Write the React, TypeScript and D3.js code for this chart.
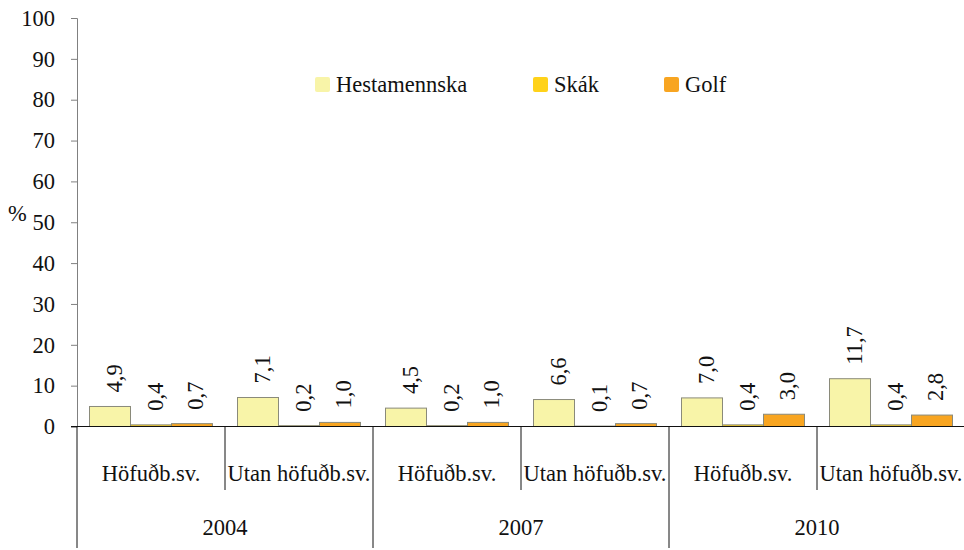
import React, { useEffect, useRef } from "react";
import * as d3 from "d3";

const years = ["2004", "2007", "2010"];
const regions = ["Höfuðb.sv.", "Utan höfuðb.sv."];
const series = ["Hestamennska", "Skák", "Golf"];
const colors = ["#F8F4A8", "#FFD21A", "#F8A521"];
// values per group: 2004 H, 2004 U, 2007 H, 2007 U, 2010 H, 2010 U
const hestamennska = [4.9, 7.1, 4.5, 6.6, 7.0, 11.7];
const skak = [0.4, 0.2, 0.2, 0.1, 0.4, 0.4];
const golf = [0.7, 1.0, 1.0, 0.7, 3.0, 2.8];
const yTicks = [0, 10, 20, 30, 40, 50, 60, 70, 80, 90, 100];

const W = 964;
const H = 550;
const FONT = "Liberation Serif, Tinos, Times New Roman, DejaVu Serif, serif";
const FS = "22.5px";

export default function App() {
  const ref = useRef<SVGSVGElement | null>(null);

  useEffect(() => {
    const svg = d3.select(ref.current);
    svg.selectAll("*").remove();

    const left = 77, right = 965, top = 18, base = 426.5;
    const y = d3.scaleLinear().domain([0, 100]).range([base, top]);

    const groups: string[] = [];
    years.forEach(yr => regions.forEach(r => groups.push(yr + "|" + r)));
    const x0 = d3.scaleBand().domain(groups).range([left, right]);
    const x1 = d3.scaleBand().domain(series).range([0, x0.bandwidth()]).paddingInner(0).paddingOuter(0.305);
    const xYear = d3.scaleBand().domain(years).range([left, right]);

    const vals = [hestamennska, skak, golf];
    const data = groups.map((g, gi) => ({ g, bars: series.map((s, si) => ({ s, si, v: vals[si][gi] })) }));

    // y axis
    const yAxis = d3.axisLeft(y).tickValues(yTicks).tickSize(6).tickPadding(16).tickFormat(d3.format("d"));
    const ya = svg.append("g").attr("transform", `translate(${left},0)`).call(yAxis);
    ya.attr("font-family", null).attr("font-size", null);
    ya.select(".domain").attr("stroke", "#808080");
    ya.selectAll(".tick line").attr("stroke", "#808080");
    ya.selectAll(".tick text").style("font-family", FONT).style("font-size", FS).attr("fill", "#111");

    svg.append("text").attr("x", 8).attr("y", 221).style("font-family", FONT).style("font-size", FS).attr("fill", "#111").text("%");

    // bars
    const grp = svg.selectAll("g.grp").data(data).join("g").attr("class", "grp")
      .attr("transform", d => `translate(${x0(d.g)},0)`);
    grp.selectAll("rect").data(d => d.bars).join("rect")
      .attr("x", d => x1(d.s)!)
      .attr("width", x1.bandwidth())
      .attr("y", d => y(d.v))
      .attr("height", d => base - y(d.v))
      .attr("fill", d => colors[d.si])
      .attr("stroke", "#8a8a7a")
      .attr("stroke-width", 1);
    grp.selectAll("text.val").data(d => d.bars).join("text").attr("class", "val")
      .attr("transform", d => `translate(${x1(d.s)! + x1.bandwidth() / 2 + 11.5},${y(d.v) - 14}) rotate(-90)`)
      .style("font-family", FONT).style("font-size", FS).attr("fill", "#111")
      .text(d => d.v.toFixed(1).replace(".", ","));

    // x axis baseline
    svg.append("line").attr("x1", left - 6).attr("x2", right).attr("y1", base).attr("y2", base).attr("stroke", "#111");

    // region separators and labels
    groups.forEach((g, i) => {
      if (i % 2 === 1) {
        svg.append("line").attr("x1", x0(g)!).attr("x2", x0(g)!).attr("y1", base).attr("y2", 490).attr("stroke", "#111");
      }
      svg.append("text").attr("x", x0(g)! + x0.bandwidth() / 2).attr("y", 481)
        .attr("text-anchor", "middle").style("font-family", FONT).style("font-size", FS).attr("fill", "#111")
        .text(g.split("|")[1]);
    });
    years.forEach(yr => {
      const xs = xYear(yr)!;
      svg.append("line").attr("x1", xs).attr("x2", xs).attr("y1", base).attr("y2", 548).attr("stroke", "#111");
      svg.append("text").attr("x", xs + xYear.bandwidth() / 2).attr("y", 535)
        .attr("text-anchor", "middle").style("font-family", FONT).style("font-size", FS).attr("fill", "#111")
        .text(yr);
    });
    svg.append("line").attr("x1", right - 0.5).attr("x2", right - 0.5).attr("y1", base).attr("y2", 548).attr("stroke", "#111");

    // legend
    const legX = [315, 533, 664];
    const leg = svg.selectAll("g.leg").data(series).join("g").attr("class", "leg")
      .attr("transform", (d, i) => `translate(${legX[i]},77)`);
    leg.append("rect").attr("width", 15).attr("height", 15).attr("rx", 2).attr("fill", (d, i) => colors[i]);
    leg.append("text").attr("x", 21).attr("y", 15).style("font-family", FONT).style("font-size", FS).attr("fill", "#111").text(d => d);
  }, []);

  return (
    <div style={{ position: "absolute", left: 0, top: 0 }}>
      <svg ref={ref} width={W} height={H} style={{ display: "block", background: "#fff" }} />
    </div>
  );
}
